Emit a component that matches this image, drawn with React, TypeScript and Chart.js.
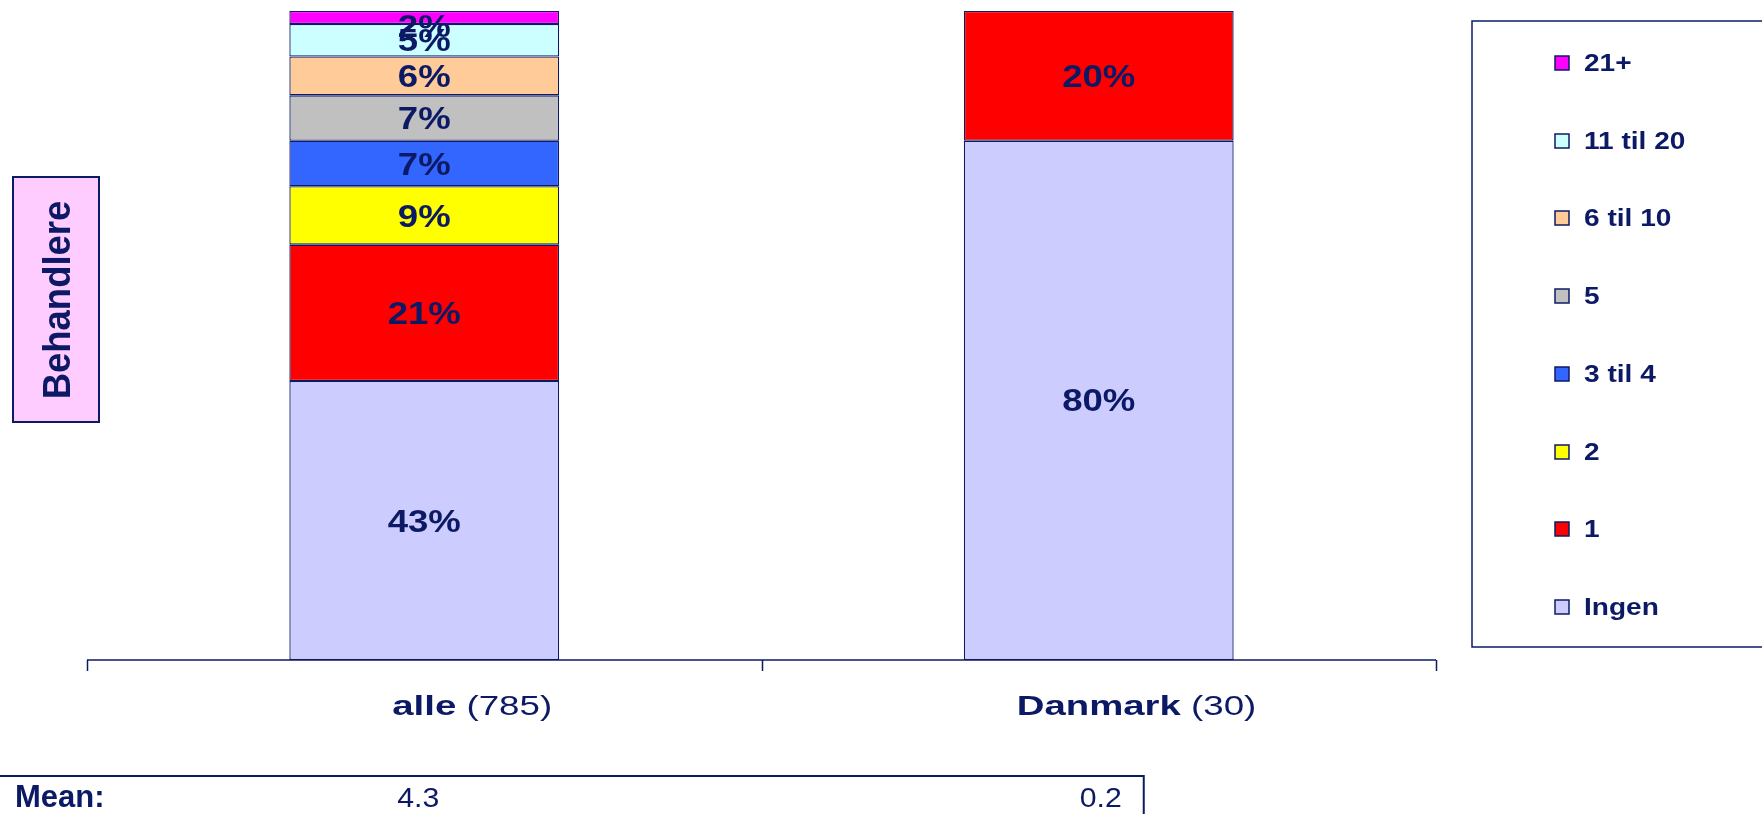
import React, { useEffect, useRef } from "react";
import Chart from "chart.js/auto";

const categories = ["alle", "Danmark"];
const categoryCounts = ["(785)", "(30)"];
const seriesLabels = ["Ingen", "1", "2", "3 til 4", "5", "6 til 10", "11 til 20", "21+"];
const alleValues = [43, 21, 9, 7, 7, 6, 5, 2];
const danmarkValues = [80, 20, 0, 0, 0, 0, 0, 0];
const seriesColors = ["#CCCCFF", "#FF0000", "#FFFF00", "#3366FF", "#C0C0C0", "#FFCC99", "#CCFFFF", "#FF00FF"];
const meanLabel = "Mean:";
const meanValues = ["4.3", "0.2"];
const yTitle = "Behandlere";

const NAVY = "#0c1a66";
const FONT = "'Liberation Sans', Arial, sans-serif";

function drawText(
  ctx: CanvasRenderingContext2D,
  text: string,
  x: number,
  y: number,
  font: string,
  align: "left" | "center" | "right",
  sx: number,
  color: string = NAVY
) {
  ctx.save();
  ctx.font = font;
  ctx.fillStyle = color;
  ctx.textBaseline = "alphabetic";
  ctx.textAlign = "left";
  const w = ctx.measureText(text).width * sx;
  const left = align === "center" ? x - w / 2 : align === "right" ? x - w : x;
  ctx.translate(left, y);
  ctx.scale(sx, 1);
  ctx.fillText(text, 0, 0);
  ctx.restore();
  return w;
}

const labelPlugin = {
  id: "barLabels",
  afterDatasetsDraw(chart: any) {
    const ctx = chart.ctx;
    const area = chart.chartArea;
    const size = 31;
    const capH = size * 0.716;
    chart.data.datasets.forEach((ds: any, i: number) => {
      const meta = chart.getDatasetMeta(i);
      meta.data.forEach((el: any, j: number) => {
        const v = ds.data[j];
        if (v == null || v === 0) return;
        const { x, y, base } = el.getProps(["x", "y", "base"], true);
        let cy = (y + base) / 2;
        cy = Math.max(cy, area.top + 4 + capH / 2);
        drawText(ctx, v + "%", x, cy + capH / 2, `bold ${size}px ${FONT}`, "center", 1.18);
      });
    });
  },
};

const decorPlugin = {
  id: "decor",
  afterDraw(chart: any) {
    const ctx: CanvasRenderingContext2D = chart.ctx;
    const area = chart.chartArea;
    const xs = chart.scales.x;
    ctx.save();
    // axis line and ticks
    ctx.strokeStyle = NAVY;
    ctx.lineWidth = 1.5;
    ctx.beginPath();
    ctx.moveTo(area.left, area.bottom);
    ctx.lineTo(area.right, area.bottom);
    const catW = (area.right - area.left) / categories.length;
    for (let i = 0; i <= categories.length; i++) {
      const tx = Math.round(area.left + i * catW) + 0.5;
      ctx.moveTo(tx, area.bottom);
      ctx.lineTo(tx, area.bottom + 11);
    }
    ctx.stroke();

    // category labels: bold name centred on the bar, count appended
    categories.forEach((c, i) => {
      const cx = xs.getPixelForValue(i);
      const by = area.bottom + 55;
      ctx.save();
      ctx.font = `bold 27px ${FONT}`;
      const wb = ctx.measureText(c).width * 1.42;
      ctx.restore();
      const left = cx - wb / 2;
      drawText(ctx, c, left, by, `bold 27px ${FONT}`, "left", 1.42);
      drawText(ctx, " " + categoryCounts[i], left + wb, by, `27px ${FONT}`, "left", 1.36);
    });

    // mean table
    const ty = area.bottom + 116;
    const tRight = xs.getPixelForValue(1) + 45;
    ctx.strokeStyle = NAVY;
    ctx.lineWidth = 2;
    ctx.beginPath();
    ctx.moveTo(0, ty);
    ctx.lineTo(tRight, ty);
    ctx.lineTo(tRight, chart.height + 2);
    ctx.stroke();
    drawText(ctx, meanLabel, 15, ty + 31, `bold 31px ${FONT}`, "left", 1.0);
    drawText(ctx, meanValues[0], xs.getPixelForValue(0) - 6, ty + 31, `27px ${FONT}`, "center", 1.12);
    drawText(ctx, meanValues[1], xs.getPixelForValue(1) + 23, ty + 31, `27px ${FONT}`, "right", 1.12);

    // y title box
    ctx.fillStyle = "#FFCCFF";
    ctx.fillRect(13, 177, 86, 245);
    ctx.strokeStyle = NAVY;
    ctx.lineWidth = 2;
    ctx.strokeRect(13, 177, 86, 245);
    ctx.save();
    ctx.translate(70, 300);
    ctx.rotate(-Math.PI / 2);
    drawText(ctx, yTitle, 0, 0, `bold 38px ${FONT}`, "center", 0.96);
    ctx.restore();

    // legend
    ctx.fillStyle = "#FFFFFF";
    ctx.fillRect(1472, 21, 400, 626);
    ctx.strokeStyle = NAVY;
    ctx.lineWidth = 1.5;
    ctx.strokeRect(1472, 21, 400, 626);
    const n = seriesLabels.length;
    for (let k = 0; k < n; k++) {
      const si = n - 1 - k;
      const cy = 63 + k * 77.7;
      ctx.fillStyle = seriesColors[si];
      ctx.fillRect(1555, Math.round(cy - 7), 14, 14);
      ctx.lineWidth = 1.5;
      ctx.strokeStyle = NAVY;
      ctx.strokeRect(1555, Math.round(cy - 7), 14, 14);
      drawText(ctx, seriesLabels[si], 1584, cy + 8, `bold 23px ${FONT}`, "left", 1.22);
    }
    ctx.restore();
  },
};

export default function App() {
  const ref = useRef<HTMLCanvasElement | null>(null);
  useEffect(() => {
    if (!ref.current) return;
    const datasets = seriesLabels.map((lab, i) => ({
      label: lab,
      data: [alleValues[i] || null, danmarkValues[i] || null],
      backgroundColor: seriesColors[i],
      borderColor: NAVY,
      borderWidth: 1.3,
      borderSkipped: false as const,
      categoryPercentage: 1,
      barPercentage: 0.4,
    }));
    const chart = new Chart(ref.current, {
      type: "bar",
      data: { labels: categories, datasets },
      options: {
        animation: false,
        responsive: false,
        devicePixelRatio: 1,
        layout: { padding: { left: 87, right: 326, top: 11, bottom: 154 } },
        scales: {
          x: { display: false, stacked: true },
          y: { display: false, stacked: true, min: 0, max: 100 },
        },
        plugins: { legend: { display: false }, tooltip: { enabled: false } },
      },
      plugins: [labelPlugin, decorPlugin],
    });
    return () => chart.destroy();
  }, []);
  return (
    <div style={{ position: "fixed", left: 0, top: 0, width: 1762, height: 814, background: "#fff" }}>
      <canvas ref={ref} width={1762} height={814} style={{ display: "block" }} />
    </div>
  );
}
